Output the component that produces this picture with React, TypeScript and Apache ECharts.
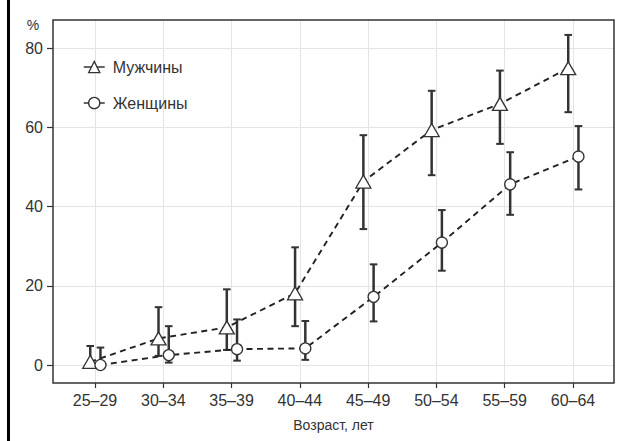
import React, { useEffect, useRef } from "react";
import * as echarts from "echarts";

const categories = ["25–29", "30–34", "35–39", "40–44", "45–49", "50–54", "55–59", "60–64"];
const menValues = [0.8, 6.7, 9.5, 18.1, 46.3, 59.3, 65.9, 74.9];
const menLow = [0, 2.3, 3.8, 9.8, 34.3, 47.9, 55.8, 63.8];
const menHigh = [4.8, 14.6, 19.1, 29.7, 58.0, 69.2, 74.3, 83.3];
const womenValues = [0, 2.5, 4.0, 4.2, 17.2, 30.9, 45.6, 52.6];
const womenLow = [0, 0.6, 1.1, 1.3, 11.0, 23.8, 37.9, 44.3];
const womenHigh = [4.4, 9.8, 11.5, 11.1, 25.4, 39.1, 53.7, 60.3];
const yTicks = { min: 0, max: 80, interval: 20 };
const seriesNames = ["Мужчины", "Женщины"];
const xAxisTitle = "Возраст, лет";
const yAxisTitle = "%";

const MEN_DX = -0.07;
const WOMEN_DX = 0.08;
const FONT = "'Liberation Sans', Arial, sans-serif";
const DARK = "#333";
const GRIDLINE = "#e4e4e4";

const errRender = (params: any, api: any) => {
  const x = api.value(0);
  const lo = api.value(1);
  const hi = api.value(2);
  const pLo = api.coord([x, lo]);
  const pHi = api.coord([x, hi]);
  const cap = 3.8;
  const style = { stroke: DARK, lineWidth: 2.5 };
  return {
    type: "group",
    children: [
      { type: "line", shape: { x1: pLo[0], y1: pLo[1], x2: pHi[0], y2: pHi[1] }, style },
      { type: "line", shape: { x1: pHi[0] - cap, y1: pHi[1], x2: pHi[0] + cap, y2: pHi[1] }, style: { stroke: DARK, lineWidth: 2 } },
      { type: "line", shape: { x1: pLo[0] - cap, y1: pLo[1], x2: pLo[0] + cap, y2: pLo[1] }, style: { stroke: DARK, lineWidth: 2 } },
    ],
  };
};

export default function App() {
  const ref = useRef<HTMLDivElement>(null);
  useEffect(() => {
    if (!ref.current) return;
    const chart = echarts.init(ref.current, undefined, { renderer: "svg" });
    // geometry
    const boxL = 53, boxR = 614, boxT = 20, boxB = 383;
    const firstX = 95, lastX = 573;
    const y0 = 365, y80 = 48;
    const W = 622, H = 441;
    const unitX = (lastX - firstX) / (categories.length - 1);
    const unitY = (y0 - y80) / (yTicks.max - yTicks.min);
    const xMin = -(firstX - boxL) / unitX;
    const xMax = categories.length - 1 + (boxR - lastX) / unitX;
    const yMin = yTicks.min - (boxB - y0) / unitY;
    const yMax = yTicks.max + (y80 - boxT) / unitY;

    const menErr = categories.map((_, i) => [i + MEN_DX, menLow[i], menHigh[i]]);
    const womenErr = categories.map((_, i) => [i + WOMEN_DX, womenLow[i], womenHigh[i]]);
    const menPts = categories.map((_, i) => [i + MEN_DX, menValues[i]]);
    const womenPts = categories.map((_, i) => [i + WOMEN_DX, womenValues[i]]);

    const lineStyle = { color: "#222", width: 1.9, type: [6, 4.5] as any };

    chart.setOption({
      animation: false,
      backgroundColor: "#fff",
      textStyle: { fontFamily: FONT },
      grid: [
        { left: boxL, right: W - boxR, top: boxT, bottom: H - boxB, show: true, borderColor: DARK, borderWidth: 1.5, backgroundColor: "transparent", z: 3 },
        { left: firstX, right: W - lastX, top: boxT, bottom: H - boxB },
        { left: boxL, right: W - boxR, top: y80, bottom: H - y0 },
      ],
      xAxis: [
        { type: "value", gridIndex: 0, min: xMin, max: xMax, show: false },
        {
          type: "category",
          gridIndex: 1,
          data: categories,
          boundaryGap: false,
          position: "bottom",
          axisLine: { show: false },
          axisTick: { show: true, length: 5, lineStyle: { color: DARK, width: 1.2 } },
          axisLabel: { color: DARK, fontSize: 16, margin: 9, fontFamily: FONT },
          splitLine: { show: true, lineStyle: { color: GRIDLINE, width: 1 } },
        },
        { type: "value", gridIndex: 2, min: 0, max: 1, show: false },
      ],
      yAxis: [
        { type: "value", gridIndex: 0, min: yMin, max: yMax, show: false },
        { type: "value", gridIndex: 1, min: 0, max: 1, show: false },
        {
          type: "value",
          gridIndex: 2,
          min: yTicks.min,
          max: yTicks.max,
          interval: yTicks.interval,
          axisLine: { show: false },
          axisTick: { show: true, length: 6, lineStyle: { color: DARK, width: 1.2 } },
          axisLabel: { color: DARK, fontSize: 16, margin: 10, fontFamily: FONT },
          splitLine: { show: true, lineStyle: { color: GRIDLINE, width: 1 } },
        },
      ],
      legend: {
        data: seriesNames,
        orient: "vertical",
        left: 78,
        top: 54,
        itemWidth: 21,
        itemHeight: 14,
        itemGap: 20,
        textStyle: { color: DARK, fontSize: 16, fontFamily: FONT, padding: [0, 0, 0, 3] },
        lineStyle: { type: "solid", width: 1.5, color: DARK },
        itemStyle: { color: "#fff", borderColor: DARK, borderWidth: 1.3 },
      },
      graphic: [
        { type: "rect", left: 7, top: 0, shape: { width: 3, height: H }, style: { fill: "#000" }, z: 10 },
        { type: "text", x: 33, y: 25, style: { text: yAxisTitle, fill: DARK, font: `14px ${FONT}`, align: "center", verticalAlign: "middle" } },
        { type: "text", x: (boxL + boxR) / 2, y: 425, style: { text: xAxisTitle, fill: DARK, font: `14px ${FONT}`, align: "center", verticalAlign: "middle" } },
      ],
      series: [
        { type: "custom", name: "errM", xAxisIndex: 0, yAxisIndex: 0, renderItem: errRender, data: menErr, encode: { x: 0, y: [1, 2] }, z: 2 },
        { type: "custom", name: "errW", xAxisIndex: 0, yAxisIndex: 0, renderItem: errRender, data: womenErr, encode: { x: 0, y: [1, 2] }, z: 2 },
        {
          type: "line",
          name: seriesNames[0],
          xAxisIndex: 0,
          yAxisIndex: 0,
          data: menPts,
          symbol: "triangle",
          symbolSize: [15, 13],
          showAllSymbol: true,
          lineStyle,
          itemStyle: { color: "#fff", borderColor: DARK, borderWidth: 1.3 },
          z: 4,
        },
        {
          type: "line",
          name: seriesNames[1],
          xAxisIndex: 0,
          yAxisIndex: 0,
          data: womenPts,
          symbol: "circle",
          symbolSize: 11,
          showAllSymbol: true,
          lineStyle,
          itemStyle: { color: "#fff", borderColor: DARK, borderWidth: 1.3 },
          z: 4,
        },
      ],
    });
    return () => chart.dispose();
  }, []);
  return <div ref={ref} style={{ position: "fixed", left: 0, top: 0, width: 622, height: 441 }} />;
}
